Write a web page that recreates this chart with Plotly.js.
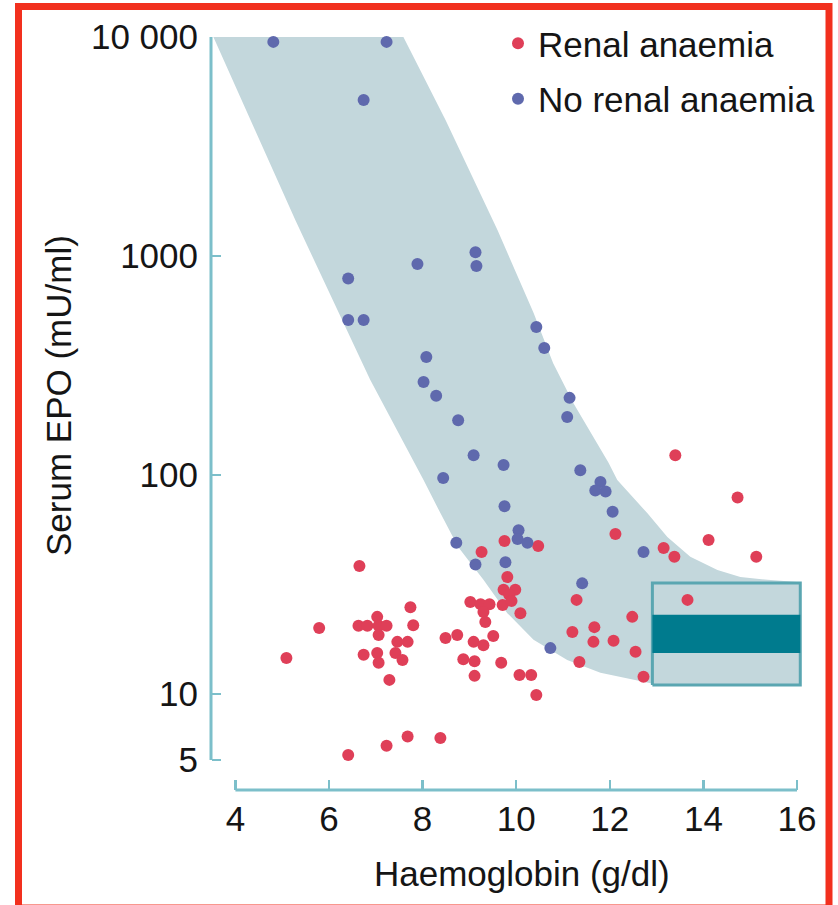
<!DOCTYPE html>
<html>
<head>
<meta charset="utf-8">
<script src="https://cdn.plot.ly/plotly-3.0.1.min.js"></script>
<style>
html,body{margin:0;padding:0;background:#fff;}
#chart{width:838px;height:905px;}
</style>
</head>
<body>
<div id="chart"></div>
<script>
// ---- Data ----
const renalX = [14.73,14.11,15.13,12.12,13.15,13.38,13.66,9.75,9.26,10.47,9.81,9.73,9.98,9.85,9.71,9.90,9.02,9.24,9.43,9.30,9.34,10.09,7.74,7.80,8.49,8.74,9.09,9.30,9.51,8.87,9.11,9.11,9.68,10.07,10.32,10.43,11.29,12.48,11.67,11.20,12.08,11.65,12.55,11.35,12.72,13.40,6.65,5.79,5.09,6.63,6.82,7.03,7.06,7.23,7.06,6.74,7.03,7.06,7.46,7.68,7.42,7.57,7.29,6.41,7.23,7.68,8.38];
const renalY = [79,50.5,42.3,53.8,46.4,42.3,26.9,50,44.5,47.4,34.2,29.9,29.9,28.4,25.5,26.6,26.3,25.7,25.7,23.7,21.3,23.4,24.9,20.6,18.0,18.6,17.3,16.7,18.4,14.4,14.1,12.1,13.9,12.2,12.2,9.9,26.9,22.5,20.2,19.2,17.5,17.3,15.6,14.0,12.0,123,38.4,20.0,14.6,20.5,20.5,22.5,20.5,20.5,18.6,15.1,15.4,13.9,17.3,17.3,15.4,14.3,11.6,5.26,5.8,6.4,6.3];

const noRenalX = [4.81,7.23,6.74,6.41,7.89,9.13,9.15,6.41,6.74,8.08,8.02,8.29,8.76,10.43,10.60,11.14,11.09,9.09,8.44,9.73,11.37,11.80,11.69,11.91,12.06,9.75,10.05,10.03,10.24,8.72,9.13,9.77,11.41,12.72,10.73];
const noRenalY = [9500,9500,5150,790,920,1040,900,510,510,346,266,230,178,474,380,225,184,123,97,111,105,93,85,84,68,72,56,51,49,49,39,40,32,44.5,16.2];

// shaded band boundaries
const bandLeftX  = [3.53,4.32,5.28,6.88,7.46,8.02,8.38,8.76,9.30,9.81,10.37,11.09,11.80,12.50,12.87,16.07];
const bandLeftY  = [10000,4180,1459,272,160,94.8,67,46.9,33.2,23.4,17.7,14.3,12.5,11.6,11.2,11.2];
const bandRightX = [16.07,15.37,14.79,14.30,13.72,13.23,12.80,12.16,11.97,11.22,10.79,10.37,9.60,8.49,7.59];
const bandRightY = [32.4,33.2,34.2,36.8,42.3,52.1,67,94.8,114,213,324,550,1315,4180,10000];

// normal-range box
const boxX = [12.91, 16.07];
const boxY = [11.0, 32.1];
const boxInnerY = [15.4, 23.0];

const xTicks = [4,6,8,10,12,14,16];
const yTicks = [5,10,100,1000,10000];
const yTickText = ['5','10','100','1000','10 000'];

// ---- layout geometry ----
const L = 212, T = 37, PW = 592, PH = 753, W = 838, H = 905;
const pxPerX = 46.8, pxPerDec = 219;
const xRange = [3.5, 3.5 + PW / pxPerX];
const yRange = [4 - PH / pxPerDec, 4];
const px2paperX = p => (p - L) / PW;
const px2paperY = p => (T + PH - p) / PH;
const val2paperY = v => (Math.log10(v) - yRange[0]) / (yRange[1] - yRange[0]);

const axisCol = '#7cbfca';
const FONT = 'Liberation Sans, Arial, Helvetica, sans-serif';
const FS = 35;
const TXT = '#151515';

const traces = [
  { // band
    x: bandLeftX.concat(bandRightX),
    y: bandLeftY.concat(bandRightY),
    mode: 'lines', fill: 'toself', fillcolor: '#c3d7dc',
    line: {width: 0, color: '#c3d7dc', shape: 'linear'},
    hoverinfo: 'skip', showlegend: false
  },
  { // box fill + border
    x: [boxX[0], boxX[1], boxX[1], boxX[0], boxX[0]],
    y: [boxY[0], boxY[0], boxY[1], boxY[1], boxY[0]],
    mode: 'lines', fill: 'toself', fillcolor: '#c3d7dc',
    line: {width: 3, color: '#5aa6b1'},
    hoverinfo: 'skip', showlegend: false
  },
  { // inner teal band
    x: [boxX[0], boxX[1], boxX[1], boxX[0], boxX[0]],
    y: [boxInnerY[0], boxInnerY[0], boxInnerY[1], boxInnerY[1], boxInnerY[0]],
    mode: 'lines', fill: 'toself', fillcolor: '#007b8e',
    line: {width: 0, color: '#007b8e'},
    hoverinfo: 'skip', showlegend: false
  },
  {
    name: 'Renal anaemia', legendgroup: 'a', x: renalX, y: renalY, mode: 'markers', type: 'scatter',
    marker: {color: '#df3f58', size: 12}, cliponaxis: false
  },
  {
    name: 'No renal anaemia', legendgroup: 'b', x: noRenalX, y: noRenalY, mode: 'markers', type: 'scatter',
    marker: {color: '#5f69ad', size: 12}, cliponaxis: false
  }
];

const layout = {
  width: W, height: H,
  margin: {l: L, r: W - L - PW, t: T, b: H - T - PH, pad: 0},
  paper_bgcolor: '#ffffff', plot_bgcolor: 'rgba(0,0,0,0)',
  font: {family: FONT, size: FS, color: TXT},
  showlegend: true,
  legend: {
    x: px2paperX(498), y: px2paperY(14), xanchor: 'left', yanchor: 'top',
    font: {family: FONT, size: FS, color: TXT},
    bgcolor: 'rgba(0,0,0,0)', itemsizing: 'constant',
    traceorder: 'grouped', tracegroupgap: 7
  },
  xaxis: {
    range: xRange, tickvals: xTicks, ticktext: xTicks.map(String),
    ticks: 'inside', ticklen: 10, tickwidth: 2.5, tickcolor: axisCol,
    showline: false, showgrid: false, zeroline: false,
    tickfont: {family: FONT, size: FS, color: TXT},
    ticklabelstandoff: 5
  },
  yaxis: {
    type: 'log', range: yRange, tickvals: yTicks, ticktext: yTickText,
    ticks: 'inside', ticklen: 9, tickwidth: 2.5, tickcolor: axisCol,
    showline: false, showgrid: false, zeroline: false,
    tickfont: {family: FONT, size: FS, color: TXT},
    ticklabelstandoff: 13
  },
  shapes: [
    { // y axis line
      type: 'line', xref: 'paper', yref: 'paper',
      x0: px2paperX(211), x1: px2paperX(211),
      y0: val2paperY(5), y1: val2paperY(10000),
      line: {color: axisCol, width: 3}
    },
    { // x axis line
      type: 'line', xref: 'x', yref: 'paper',
      x0: 4, x1: 16, y0: 0, y1: 0,
      line: {color: axisCol, width: 3}
    },
    { // red frame
      type: 'rect', xref: 'paper', yref: 'paper',
      x0: px2paperX(18.5), x1: px2paperX(829), y0: px2paperY(6.5), y1: px2paperY(908),
      line: {color: '#f2301e', width: 7}, fillcolor: 'rgba(0,0,0,0)'
    }
  ],
  annotations: [
    {
      text: 'Serum EPO (mU/ml)', xref: 'paper', yref: 'paper',
      x: px2paperX(58), y: px2paperY(396), showarrow: false, textangle: -90,
      xanchor: 'center', yanchor: 'middle',
      font: {family: FONT, size: FS, color: TXT}
    },
    {
      text: 'Haemoglobin (g/dl)', xref: 'paper', yref: 'paper',
      x: px2paperX(522), y: px2paperY(874), showarrow: false,
      xanchor: 'center', yanchor: 'middle',
      font: {family: FONT, size: FS, color: TXT}
    }
  ]
};

Plotly.newPlot('chart', traces, layout, {staticPlot: true, displayModeBar: false});
</script>
</body>
</html>
